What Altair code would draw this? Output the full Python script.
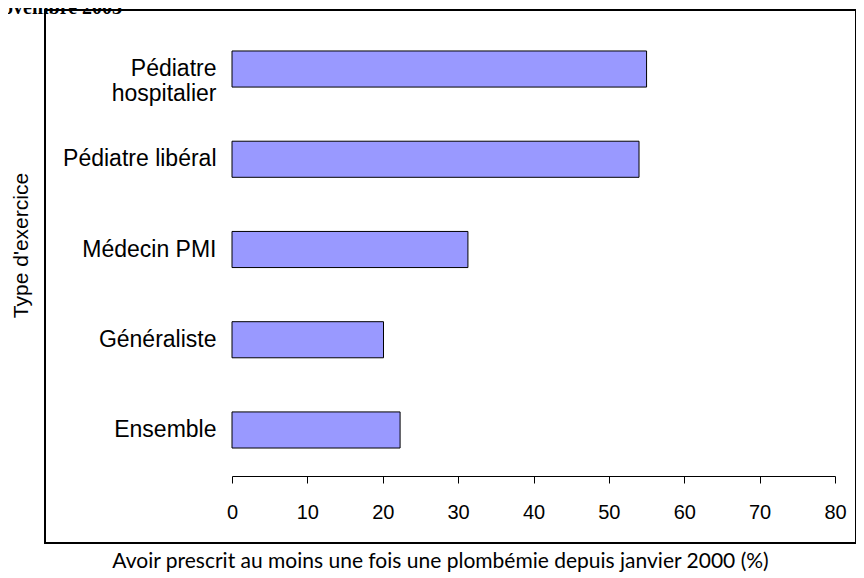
import altair as alt
import pandas as pd

categories = ["Pédiatre hospitalier", "Pédiatre libéral", "Médecin PMI", "Généraliste", "Ensemble"]
values = [55.0, 54.0, 31.3, 20.1, 22.3]
x_ticks = [0, 10, 20, 30, 40, 50, 60, 70, 80]

df = pd.DataFrame({"type": categories, "pct": values})

W, H = 603, 453

bars = alt.Chart(df).mark_bar(color="#9999FF", stroke="black", strokeWidth=1).encode(
    y=alt.Y("type:N", sort=categories,
            scale=alt.Scale(paddingInner=0.6, paddingOuter=0.31),
            axis=alt.Axis(title="Type d'exercice", domain=False, ticks=False, grid=False,
                          labelFont="Liberation Sans", labelFontSize=23, labelColor="black",
                          labelPadding=16, labelLimit=300, labelLineHeight=25,
                          labelExpr="datum.value == 'Pédiatre hospitalier' ? ['Pédiatre', 'hospitalier'] : datum.label",
                          titleFont="Liberation Sans", titleFontSize=21, titleFontWeight="normal",
                          titleColor="black", titleX=-201, titleY=222, titleAngle=-90)),
    x=alt.X("pct:Q", scale=alt.Scale(domain=[0, 80], nice=False),
            axis=alt.Axis(values=x_ticks, title="Avoir prescrit au moins une fois une plombémie depuis janvier 2000 (%)",
                          grid=False, domainColor="black", tickColor="black", tickSize=7,
                          labelFont="Liberation Sans", labelFontSize=20, labelColor="black",
                          labelPadding=19, labelFlush=False,
                          titleFont="Lato", titleFontSize=21, titleFontWeight="normal",
                          titleColor="black", titleX=208, titleY=91, titleBaseline="alphabetic")),
)

frame = alt.Chart(df).mark_rect(fill=None, stroke="black", strokeWidth=1.5).encode(
    x=alt.value(-187), x2=alt.value(624), y=alt.value(-13), y2=alt.value(520)
)

head = alt.Chart(pd.DataFrame({"t": ["ovembre 2003"]})).mark_text(
    font="Liberation Serif", fontSize=20, fontWeight="bold", align="left", baseline="alphabetic", color="black"
).encode(x=alt.value(-229), y=alt.value(-9), text="t:N")

chart = alt.layer(frame, bars, head).properties(
    width=W, height=H,
    padding={"left": 224, "top": 15, "right": 21, "bottom": 100},
    autosize="none",
).configure_view(stroke=None)

chart.save("out.html", embed_options={"renderer": "svg", "actions": False})
